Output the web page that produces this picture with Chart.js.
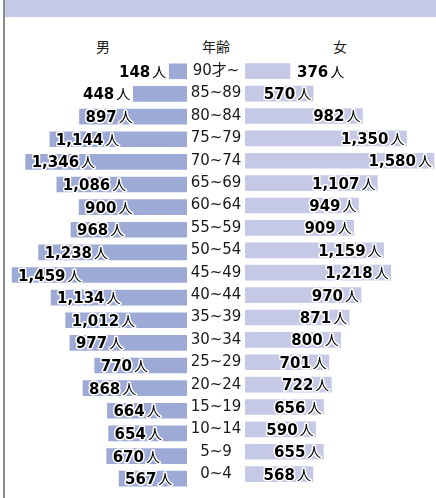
<!DOCTYPE html>
<html>
<head>
<meta charset="utf-8">
<script src="https://cdn.jsdelivr.net/npm/chart.js@4.4.0/dist/chart.umd.min.js"></script>
<style>
  body { margin: 0; background: #fff; }
  #wrap { position: relative; width: 436px; height: 498px; overflow: hidden; font-family: "Noto Sans CJK JP", sans-serif; }
  #band { position: absolute; left: 4px; top: 0; width: 432px; height: 17px; background: #c5c9e6; }
  #border { position: absolute; left: 3px; top: 0; width: 2px; height: 498px; background: #8c8c8c; }
  .head { position: absolute; top: 36px; font-size: 14px; line-height: 20px; color: #1a1a1a; transform: translateX(-50%); }
  #male_chart { position: absolute; left: 0; top: 0; }
  #female_chart { position: absolute; left: 187px; top: 0; }
</style>
</head>
<body>
<div id="wrap">
  <div id="band"></div>
  <div id="border"></div>
  <div class="head" style="left:103px">男</div>
  <div class="head" style="left:216px">年齢</div>
  <div class="head" style="left:340px">女</div>
  <canvas id="male_chart" width="187" height="498"></canvas>
  <canvas id="female_chart" width="249" height="498"></canvas>
</div>
<script>
// age groups, oldest first (top row)
const ages = ["90才~", "85~89", "80~84", "75~79", "70~74", "65~69", "60~64", "55~59", "50~54",
    "45~49", "40~44", "35~39", "30~34", "25~29", "20~24", "15~19", "10~14", "5~9", "0~4"];

const male = [148, 448, 897, 1144, 1346, 1086, 900, 968, 1238,
    1459, 1134, 1012, 977, 770, 868, 664, 654, 670, 567];

const female = [376, 570, 982, 1350, 1580, 1107, 949, 909, 1159,
    1218, 970, 871, 800, 701, 722, 656, 590, 655, 568];

const unit = "人";

const ageFont = "15px 'DejaVu Sans', 'Noto Sans CJK JP'";
const midWidth = 58;   // width of the age column

// widest age label, so the column text can be centred
const measureCtx = document.createElement("canvas").getContext("2d");
measureCtx.font = ageFont;
const widestAge = Math.max(...ages.map(a => measureCtx.measureText(a).width));

// draws "1,234人" labels with a white halo
valueLabels = (values, side) => ({
    id: "valueLabels_" + side,
    afterDatasetsDraw: (chart) => {
        const ctx = chart.ctx;
        const meta = chart.getDatasetMeta(0);
        ctx.save();
        ctx.textBaseline = "alphabetic";
        ctx.textAlign = "left";
        ctx.lineJoin = "round";
        ctx.lineWidth = 3;
        ctx.strokeStyle = "#fff";
        ctx.fillStyle = "#000";

        meta.data.forEach((bar, i) => {
            const num = values[i].toLocaleString("en-US");
            ctx.font = "bold 15px 'DejaVu Sans'";
            const wNum = ctx.measureText(num).width;
            ctx.font = "14px 'Noto Sans CJK JP'";
            const wUnit = ctx.measureText(unit).width;
            const total = wNum + 2 + wUnit;
            const width = Math.abs(bar.base - bar.x);

            let start;
            if (side === "male") {
                start = width >= total + 14 ? bar.x + 6 : bar.x - 3 - total;
            } else {
                start = width >= total + 6 ? bar.x - 2 - total : bar.x + 7;
            }
            const y = bar.y + 5.5;

            ctx.font = "bold 15px 'DejaVu Sans'";
            ctx.strokeText(num, start, y);
            ctx.fillText(num, start, y);
            ctx.font = "14px 'Noto Sans CJK JP'";
            ctx.strokeText(unit, start + wNum + 2, y);
            ctx.fillText(unit, start + wNum + 2, y);
        });
        ctx.restore();
    }
});

new Chart("male_chart", {
    type: "bar",
    data: {
        labels: ages,
        datasets: [{ data: male, backgroundColor: "#9eaad6", barThickness: 15 }]
    },
    options: {
        indexAxis: "y",
        responsive: false,
        animation: false,
        layout: { padding: { top: 60, bottom: 8, left: 0, right: 0 } },
        scales: {
            x: { display: false, reverse: true, min: 0, max: 1560 },
            y: { display: false }
        },
        plugins: { legend: { display: false }, tooltip: { enabled: false } }
    },
    plugins: [valueLabels(male, "male")]
});

new Chart("female_chart", {
    type: "bar",
    data: {
        labels: ages,
        datasets: [{ data: female, backgroundColor: "#c5c9e6", barThickness: 15 }]
    },
    options: {
        indexAxis: "y",
        responsive: false,
        animation: false,
        layout: { padding: { top: 60, bottom: 8, left: 0, right: 0 } },
        scales: {
            x: { display: false, min: 0, max: 1597 },
            y: {
                grid: { display: false, drawTicks: false, tickLength: 0 },
                border: { display: false },
                afterFit: (scale) => { scale.width = midWidth; },
                ticks: {
                    autoSkip: false,
                    crossAlign: "center",
                    // centre of the column sits 29px left of the female bars
                    padding: midWidth / 2 - widestAge / 2,
                    color: "#1a1a1a",
                    font: { family: "'DejaVu Sans', 'Noto Sans CJK JP'", size: 15 }
                }
            }
        },
        plugins: { legend: { display: false }, tooltip: { enabled: false } }
    },
    plugins: [valueLabels(female, "female")]
});
</script>
</body>
</html>
